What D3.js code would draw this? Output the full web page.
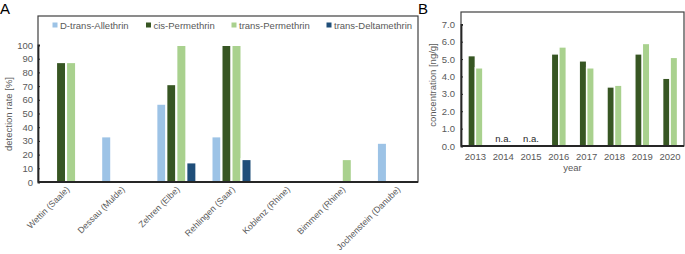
<!DOCTYPE html>
<html>
<head>
<meta charset="utf-8">
<script src="https://cdn.jsdelivr.net/npm/d3@7"></script>
<style>
  body { margin: 0; background: #fff; }
  svg { display: block; font-family: 'Liberation Sans', Arial, sans-serif; }
</style>
</head>
<body>
<svg id="chart" width="685" height="254"></svg>
<script>
// panel A: detection rate per site
const sites = ['Wettin (Saale)', 'Dessau (Mulde)', 'Zehren (Elbe)', 'Rehlingen (Saar)', 'Koblenz (Rhine)', 'Bimmen (Rhine)', 'Jochenstein (Danube)']
const compounds = ['D-trans-Allethrin', 'cis-Permethrin', 'trans-Permethrin', 'trans-Deltamethrin']
const allethrin = [null, 33.3, 57.1, 33.3, null, null, 28.6]
const cisPermethrin = [87.5, null, 71.4, 100, null, null, null]
const transPermethrin = [87.5, null, 100, 100, null, 16.7, null]
const deltamethrin = [null, null, 14.3, 16.7, null, null, null]
const rateTicks = [0, 10, 20, 30, 40, 50, 60, 70, 80, 90, 100]

// panel B: concentration per year
const years = ['2013', '2014', '2015', '2016', '2017', '2018', '2019', '2020']
const cisConc = [5.2, null, null, 5.3, 4.9, 3.4, 5.3, 3.9]
const transConc = [4.5, null, null, 5.7, 4.5, 3.5, 5.9, 5.1]
const concTicks = [0, 1, 2, 3, 4, 5, 6, 7]
const notAvailable = ['2014', '2015']

const colors = {
  'D-trans-Allethrin': '#9dc3e6',
  'cis-Permethrin': '#375623',
  'trans-Permethrin': '#a9d18e',
  'trans-Deltamethrin': '#1f4e79'
}
const textGrey = '#595959'
const lineDark = '#404040'

const svg = d3.select('#chart')

// ---------- panel A ----------
const seriesA = [allethrin, cisPermethrin, transPermethrin, deltamethrin]
const rowsA = []
sites.forEach((s, i) => {
  compounds.forEach((c, j) => {
    if (seriesA[j][i] != null) rowsA.push({ site: s, compound: c, value: seriesA[j][i] })
  })
})

let gA = svg.append('g')
let xA = d3.scaleBand().domain(sites).range([38.5, 424.5])
let x1A = d3.scaleBand().domain(compounds).range([-20, 20])
let yA = d3.scaleLinear().domain([0, 100]).range([182, 45])

gA.append('rect')
  .attr('x', 38).attr('y', 16)
  .attr('width', 380).attr('height', 166)
  .attr('fill', 'none')
  .attr('stroke', lineDark)
  .attr('stroke-width', 1.2)

gA.selectAll('rect.bar')
  .data(rowsA)
  .enter().append('rect')
  .attr('class', 'bar')
  .attr('x', d => xA(d.site) + xA.bandwidth() / 2 + x1A(d.compound))
  .attr('width', x1A.bandwidth())
  .attr('y', d => yA(d.value))
  .attr('height', d => yA(0) - yA(d.value))
  .attr('fill', d => colors[d.compound])
  .attr('stroke', '#fff')
  .attr('stroke-width', 2)

let axA = gA.append('g')
  .attr('transform', 'translate(38,0)')
  .call(d3.axisRight(yA).tickValues(rateTicks).tickSize(2).tickFormat(d3.format('d')))
axA.select('.domain').attr('stroke', '#262626').attr('stroke-width', 1.8)
axA.selectAll('.tick line').attr('stroke', '#262626')
axA.selectAll('.tick text')
  .attr('x', -5)
  .attr('text-anchor', 'end')
  .attr('fill', textGrey)
  .style('font-size', '9.5px')

gA.append('line')
  .attr('x1', 38).attr('x2', 418)
  .attr('y1', 182).attr('y2', 182)
  .attr('stroke', '#262626')
  .attr('stroke-width', 1.8)

// rotated site names under the axis
gA.selectAll('text.cat')
  .data(sites)
  .enter().append('text')
  .attr('class', 'cat')
  .attr('transform', d => 'translate(' + (xA(d) + xA.bandwidth() / 2 + 4) + ',190) rotate(-45)')
  .attr('text-anchor', 'end')
  .attr('fill', textGrey)
  .style('font-size', '8.8px')
  .text(d => d)

gA.append('text')
  .attr('transform', 'translate(12,114) rotate(-90)')
  .attr('text-anchor', 'middle')
  .attr('fill', textGrey)
  .style('font-size', '9.5px')
  .text('detection rate [%]')

const legendX = [52.5, 146, 231.5, 326.5]
let leg = gA.selectAll('g.leg')
  .data(compounds)
  .enter().append('g')
  .attr('class', 'leg')
  .attr('transform', (d, i) => 'translate(' + legendX[i] + ',25)')
leg.append('rect')
  .attr('x', 0).attr('y', -2.5)
  .attr('width', 5).attr('height', 5)
  .attr('fill', d => colors[d])
leg.append('text')
  .attr('x', 7.5).attr('y', 3.5)
  .attr('fill', textGrey)
  .style('font-size', '9.5px')
  .text(d => d)

svg.append('text')
  .attr('x', 0).attr('y', 13.5)
  .attr('fill', '#000')
  .style('font-size', '15px')
  .text('A')

// ---------- panel B ----------
const pairB = ['cis-Permethrin', 'trans-Permethrin']
const rowsB = []
years.forEach((yr, i) => {
  if (cisConc[i] != null) rowsB.push({ year: yr, compound: pairB[0], value: cisConc[i] })
  if (transConc[i] != null) rowsB.push({ year: yr, compound: pairB[1], value: transConc[i] })
})

let gB = svg.append('g')
let xB = d3.scaleBand().domain(years).range([461.5, 684])
let x1B = d3.scaleBand().domain(pairB).range([-7.5, 7.5])
let yB = d3.scaleLinear().domain([0, 7]).range([146, 24.3])

gB.append('rect')
  .attr('x', 461).attr('y', 12)
  .attr('width', 223).attr('height', 134)
  .attr('fill', 'none')
  .attr('stroke', lineDark)
  .attr('stroke-width', 1.2)

gB.selectAll('rect.bar')
  .data(rowsB)
  .enter().append('rect')
  .attr('class', 'bar')
  .attr('x', d => xB(d.year) + xB.bandwidth() / 2 + x1B(d.compound))
  .attr('width', x1B.bandwidth())
  .attr('y', d => yB(d.value))
  .attr('height', d => yB(0) - yB(d.value))
  .attr('fill', d => colors[d.compound])
  .attr('stroke', '#fff')
  .attr('stroke-width', 1.5)

let axB = gB.append('g')
  .attr('transform', 'translate(461,0)')
  .call(d3.axisRight(yB).tickValues(concTicks).tickSize(2).tickFormat(d3.format('.1f')))
axB.select('.domain').attr('stroke', '#262626').attr('stroke-width', 1.8)
axB.selectAll('.tick line').attr('stroke', '#262626')
axB.selectAll('.tick text')
  .attr('x', -6)
  .attr('text-anchor', 'end')
  .attr('fill', textGrey)
  .style('font-size', '9.5px')

gB.append('line')
  .attr('x1', 461).attr('x2', 684)
  .attr('y1', 146).attr('y2', 146)
  .attr('stroke', '#262626')
  .attr('stroke-width', 1.8)

gB.selectAll('text.yr')
  .data(years)
  .enter().append('text')
  .attr('class', 'yr')
  .attr('x', d => xB(d) + xB.bandwidth() / 2)
  .attr('y', 160)
  .attr('text-anchor', 'middle')
  .attr('fill', textGrey)
  .style('font-size', '9.5px')
  .text(d => d)

gB.selectAll('text.na')
  .data(notAvailable)
  .enter().append('text')
  .attr('class', 'na')
  .attr('x', d => xB(d) + xB.bandwidth() / 2)
  .attr('y', 142)
  .attr('text-anchor', 'middle')
  .attr('fill', '#262626')
  .style('font-size', '9.5px')
  .text('n.a.')

gB.append('text')
  .attr('x', (461 + 684) / 2)
  .attr('y', 171)
  .attr('text-anchor', 'middle')
  .attr('fill', textGrey)
  .style('font-size', '9.5px')
  .text('year')

gB.append('text')
  .attr('transform', 'translate(436,85) rotate(-90)')
  .attr('text-anchor', 'middle')
  .attr('fill', textGrey)
  .style('font-size', '9.5px')
  .text('concentration [ng/g]')

svg.append('text')
  .attr('x', 418).attr('y', 13.5)
  .attr('fill', '#000')
  .style('font-size', '15px')
  .text('B')
</script>
</body>
</html>
